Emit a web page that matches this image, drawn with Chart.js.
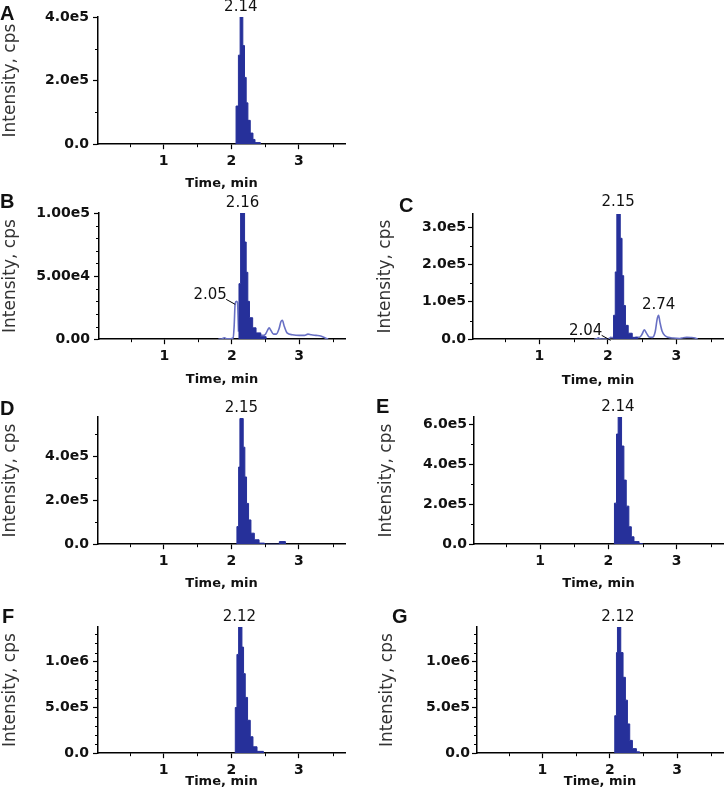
<!DOCTYPE html>
<html>
<head>
<meta charset="utf-8">
<title>Chromatograms A-G</title>
<script src="https://cdn.jsdelivr.net/npm/chart.js@4.4.1/dist/chart.umd.min.js"></script>
<style>
  body { margin: 0; background: #fff; }
  #wrap { position: relative; width: 725px; height: 798px; overflow: hidden; background: #fff; }
  #wrap canvas { position: absolute; }
</style>
</head>
<body>
<div id="wrap"></div>
<script>
// Datos (tiempo en min, intensidad en cps)
const xTicks = [1, 2, 3];
const xMinor = [0.5, 1.5, 2.5, 3.5];

// A
const timeA = [2.06, 2.07, 2.105, 2.13, 2.17, 2.195, 2.22, 2.245, 2.28, 2.32, 2.35, 2.43];
const intA = [0, 1.2e5, 2.8e5, 4.0e5, 3.1e5, 2.1e5, 1.3e5, 0.75e5, 0.35e5, 0.15e5, 0.05e5, 0];
const yTicksA = [0, 2e5, 4e5];
const peakTimeA = [2.14];
const peakIntA = [4.0e5];

// B
const timeB = [2.10, 2.107, 2.131, 2.19, 2.214, 2.238, 2.263, 2.31, 2.36, 2.43, 2.51];
const intB = [0, 0.44e5, 1.0e5, 0.77e5, 0.53e5, 0.30e5, 0.17e5, 0.09e5, 0.05e5, 0.02e5, 0];
const traceTimeB = [1.80, 1.86, 1.89, 1.92, 1.98, 2.02, 2.035, 2.05, 2.07, 2.085, 2.10, 2.2,
  2.40, 2.46, 2.50, 2.53, 2.555, 2.58, 2.62, 2.66, 2.70, 2.73, 2.75, 2.78, 2.82, 2.90,
  3.00, 3.08, 3.13, 3.18, 3.25, 3.32, 3.38, 3.43];
const traceIntB = [0, 0.004e5, 0.012e5, 0.004e5, 0.003e5, 0.01e5, 0.1e5, 0.28e5, 0.30e5, 0.29e5, 0.06e5, null,
  0.04e5, 0.03e5, 0.04e5, 0.07e5, 0.09e5, 0.07e5, 0.04e5, 0.04e5, 0.08e5, 0.14e5, 0.15e5, 0.1e5, 0.05e5, 0.035e5,
  0.03e5, 0.03e5, 0.04e5, 0.035e5, 0.03e5, 0.025e5, 0.012e5, 0];
const yTicksB = [0, 5e4, 1e5];
const peakTimeB = [2.16, 2.05];
const peakIntB = [1.0e5, 0.30e5];

// C
const timeC = [2.07, 2.082, 2.107, 2.13, 2.18, 2.206, 2.23, 2.256, 2.296, 2.355, 2.43];
const intC = [0, 0.64e5, 1.8e5, 3.4e5, 2.7e5, 1.7e5, 0.9e5, 0.37e5, 0.16e5, 0.05e5, 0];
const traceTimeC = [1.80, 1.84, 1.86, 1.88, 1.92, 1.98, 2.02, 2.04, 2.06, 2.075, 2.2,
  2.40, 2.46, 2.50, 2.53, 2.56, 2.60, 2.65, 2.69, 2.72, 2.74, 2.76, 2.79, 2.83, 2.88,
  2.95, 3.05, 3.10, 3.15, 3.21, 3.27, 3.31];
const traceIntC = [0, 0.01e5, 0.04e5, 0.01e5, 0.005e5, 0.005e5, 0.02e5, 0.05e5, 0.04e5, 0.05e5, null,
  0.05e5, 0.05e5, 0.14e5, 0.25e5, 0.17e5, 0.06e5, 0.05e5, 0.2e5, 0.55e5, 0.64e5, 0.45e5, 0.22e5, 0.1e5, 0.05e5,
  0.03e5, 0.02e5, 0.04e5, 0.05e5, 0.045e5, 0.03e5, 0];
const yTicksC = [0, 1e5, 2e5, 3e5];
const peakTimeC = [2.15, 2.04, 2.74];
const peakIntC = [3.4e5, 0.05e5, 0.64e5];

// D
const timeD = [2.07, 2.083, 2.108, 2.127, 2.176, 2.20, 2.225, 2.255, 2.29, 2.34, 2.41, 2.49, 2.71, 2.80];
const intD = [0, 0.8e5, 3.5e5, 5.7e5, 4.4e5, 3.05e5, 1.85e5, 1.1e5, 0.5e5, 0.2e5, 0.05e5, 0, 0.12e5, 0];
const yTicksD = [0, 2e5, 4e5];
const peakTimeD = [2.15];
const peakIntD = [5.7e5];

// E
const timeE = [2.08, 2.089, 2.119, 2.143, 2.193, 2.227, 2.262, 2.30, 2.336, 2.375, 2.45, 2.50];
const intE = [0, 2.05e5, 5.5e5, 6.35e5, 4.9e5, 3.2e5, 1.9e5, 0.87e5, 0.37e5, 0.13e5, 0.03e5, 0];
const yTicksE = [0, 2e5, 4e5, 6e5];
const peakTimeE = [2.14];
const peakIntE = [6.35e5];

// F
const timeF = [2.05, 2.059, 2.083, 2.108, 2.157, 2.181, 2.206, 2.24, 2.28, 2.32, 2.38, 2.475];
const intF = [0, 5.0e5, 10.8e5, 13.8e5, 11.6e5, 8.7e5, 6.1e5, 3.6e5, 1.8e5, 0.7e5, 0.2e5, 0];
const yTicksF = [0, 5e5, 1e6];
const peakTimeF = [2.12];
const peakIntF = [13.8e5];

// G
const timeG = [2.065, 2.074, 2.099, 2.114, 2.163, 2.197, 2.232, 2.262, 2.296, 2.336, 2.395, 2.444];
const intG = [0, 4.1e5, 11.0e5, 13.8e5, 11.0e5, 8.3e5, 5.8e5, 3.2e5, 1.4e5, 0.5e5, 0.15e5, 0];
const yTicksG = [0, 5e5, 1e6];
const peakTimeG = [2.12];
const peakIntG = [13.8e5];

const NAVY = "#26309a";
const TRACE = "#6870c4";

Chart.defaults.font.family = "'DejaVu Sans', sans-serif";
Chart.defaults.color = "#111";

function zip(xs, ys) {
  return xs.map((x, i) => ({ x: x, y: ys[i] }));
}

// Marcas menores, etiquetas de picos y letra del panel
const chromPlugin = {
  id: "chrom",
  afterDraw(chart, args, opts) {
    const ctx = chart.ctx;
    const xs = chart.scales.x;
    const ys = chart.scales.y;
    const area = chart.chartArea;
    ctx.save();
    ctx.strokeStyle = "#000";
    ctx.lineWidth = 1;
    ctx.beginPath();
    opts.xMinor.forEach(function (v) {
      const px = Math.round(xs.getPixelForValue(v)) + 0.5;
      ctx.moveTo(px, area.bottom);
      ctx.lineTo(px, area.bottom + 3);
    });
    for (let v = opts.yStep; v < ys.max; v += opts.yStep) {
      if (opts.yTicks.some((t) => Math.abs(t - v) < opts.yStep / 10)) continue;
      const py = Math.round(ys.getPixelForValue(v)) + 0.5;
      ctx.moveTo(area.left - 3, py);
      ctx.lineTo(area.left, py);
    }
    ctx.stroke();

    ctx.fillStyle = "#111";
    ctx.font = "15px 'DejaVu Sans'";
    ctx.textBaseline = "middle";
    ctx.textAlign = "center";
    opts.peakTimes.forEach(function (t, i) {
      const px = xs.getPixelForValue(t);
      const py = ys.getPixelForValue(opts.peakInts[i]);
      if (opts.peakSide[i] === "left") {
        ctx.fillText(t.toFixed(2), px - 25, py - 6);
        ctx.beginPath();
        ctx.moveTo(px - 9, py - 2);
        ctx.lineTo(px, py + 3);
        ctx.stroke();
      } else {
        ctx.fillText(t.toFixed(2), px, py - 10);
      }
    });

    ctx.font = "bold 20px 'Liberation Sans'";
    ctx.textAlign = "left";
    ctx.textBaseline = "alphabetic";
    ctx.fillText(opts.letter, opts.letterX, opts.letterY);
    ctx.restore();
  },
};

// Posición de cada panel en la página
const panels = [
  { letter: "A", left: 0, width: 360, L: 98, R: 345, T: 17, B: 144, gap: 39, lx: 0, ly: 20, tPad: 0,
    time: timeA, int: intA, yMax: 4.0e5, yTicks: yTicksA, yStep: 1e5, digits: 1,
    peaks: peakTimeA, peakInts: peakIntA, side: ["top"] },
  { letter: "B", left: 0, width: 360, L: 99, R: 345, T: 213, B: 339, gap: 40, lx: 0, ly: 208, tPad: 0,
    time: timeB, int: intB, traceTime: traceTimeB, traceInt: traceIntB, yMax: 1.0e5, yTicks: yTicksB, yStep: 1e4, digits: 2,
    peaks: peakTimeB, peakInts: peakIntB, side: ["top", "left"] },
  { letter: "C", left: 360, width: 365, L: 473, R: 723, T: 214, B: 339, gap: 41, lx: 399, ly: 212, tPad: 15,
    time: timeC, int: intC, traceTime: traceTimeC, traceInt: traceIntC, yMax: 3.35e5, yTicks: yTicksC, yStep: 5e4, digits: 1,
    peaks: peakTimeC, peakInts: peakIntC, side: ["top", "left", "top"] },
  { letter: "D", left: 0, width: 360, L: 98, R: 345, T: 417, B: 544, gap: 39, lx: 0, ly: 415, tPad: 0,
    time: timeD, int: intD, yMax: 5.77e5, yTicks: yTicksD, yStep: 1e5, digits: 1,
    peaks: peakTimeD, peakInts: peakIntD, side: ["top"] },
  { letter: "E", left: 360, width: 365, L: 474, R: 723, T: 417, B: 544, gap: 39, lx: 376, ly: 413, tPad: 16,
    time: timeE, int: intE, yMax: 6.35e5, yTicks: yTicksE, yStep: 1e5, digits: 1,
    peaks: peakTimeE, peakInts: peakIntE, side: ["top"] },
  { letter: "F", left: 0, width: 360, L: 98, R: 345, T: 627, B: 753, gap: 28, lx: 2, ly: 623, tPad: 0,
    time: timeF, int: intF, yMax: 1.38e6, yTicks: yTicksF, yStep: 1e5, digits: 1,
    peaks: peakTimeF, peakInts: peakIntF, side: ["top"] },
  { letter: "G", left: 360, width: 365, L: 477, R: 723, T: 627, B: 753, gap: 28, lx: 392, ly: 623, tPad: 17,
    time: timeG, int: intG, yMax: 1.38e6, yTicks: yTicksG, yStep: 1e5, digits: 1,
    peaks: peakTimeG, peakInts: peakIntG, side: ["top"] },
];

const wrap = document.getElementById("wrap");

panels.forEach(function (p) {
  const top = p.T - 22;
  const xAxisH = p.gap + 7.8;
  const canvas = document.createElement("canvas");
  canvas.width = p.width;
  canvas.height = Math.round(p.B - top + xAxisH);
  canvas.style.left = p.left + "px";
  canvas.style.top = top + "px";
  wrap.appendChild(canvas);

  const datasets = [
    {
      data: zip(p.time, p.int),
      stepped: true,
      fill: "origin",
      backgroundColor: NAVY,
      borderColor: NAVY,
      borderWidth: 1,
      pointRadius: 0,
      order: 1,
    },
  ];
  if (p.traceTime) {
    datasets.push({
      data: zip(p.traceTime, p.traceInt),
      fill: false,
      borderColor: TRACE,
      borderWidth: 1.6,
      pointRadius: 0,
      cubicInterpolationMode: "monotone",
      spanGaps: false,
      order: 2,
    });
  }

  new Chart(canvas.getContext("2d"), {
    type: "line",
    data: { datasets: datasets },
    plugins: [chromPlugin],
    options: {
      responsive: false,
      animation: false,
      layout: {
        padding: { top: 22, left: 0, bottom: 0, right: p.width - (p.R - p.left) },
      },
      plugins: {
        legend: { display: false },
        tooltip: { enabled: false },
        chrom: {
          xMinor: xMinor,
          yTicks: p.yTicks,
          yStep: p.yStep,
          peakTimes: p.peaks,
          peakInts: p.peakInts,
          peakSide: p.side,
          letter: p.letter,
          letterX: p.lx - p.left,
          letterY: p.ly - top,
        },
      },
      scales: {
        x: {
          type: "linear",
          min: 0.03,
          max: 3.68,
          afterBuildTicks: (s) => { s.ticks = xTicks.map((v) => ({ value: v })); },
          afterFit: (s) => { s.height = xAxisH; },
          ticks: {
            padding: 4,
            font: { size: 14, weight: "bold" },
            callback: (v) => String(v),
          },
          grid: { display: true, drawOnChartArea: false, drawTicks: true, tickLength: 5, color: "#000", tickWidth: 1.2 },
          border: { display: true, color: "#000", width: 1.5 },
          title: {
            display: true,
            text: "Time, min",
            font: { size: 13, weight: "bold" },
            padding: { top: 0, bottom: 0 },
          },
        },
        y: {
          min: 0,
          max: p.yMax,
          afterBuildTicks: (s) => { s.ticks = p.yTicks.map((v) => ({ value: v })); },
          afterFit: (s) => { s.width = p.L - p.left; },
          ticks: {
            padding: p.left === 0 ? 4 : 2,
            font: { size: 14, weight: "bold" },
            callback: (v) => (v === 0 ? (0).toFixed(p.digits) : v.toExponential(p.digits).replace("e+", "e")),
          },
          grid: { display: true, drawOnChartArea: false, drawTicks: true, tickLength: 5, color: "#000", tickWidth: 1.2 },
          border: { display: true, color: "#000", width: 1.5 },
          title: {
            display: true,
            text: "Intensity, cps",
            color: "#333",
            font: { size: 17, weight: "normal" },
            padding: { top: p.tPad, bottom: 0 },
          },
        },
      },
    },
  });
});
</script>
</body>
</html>
